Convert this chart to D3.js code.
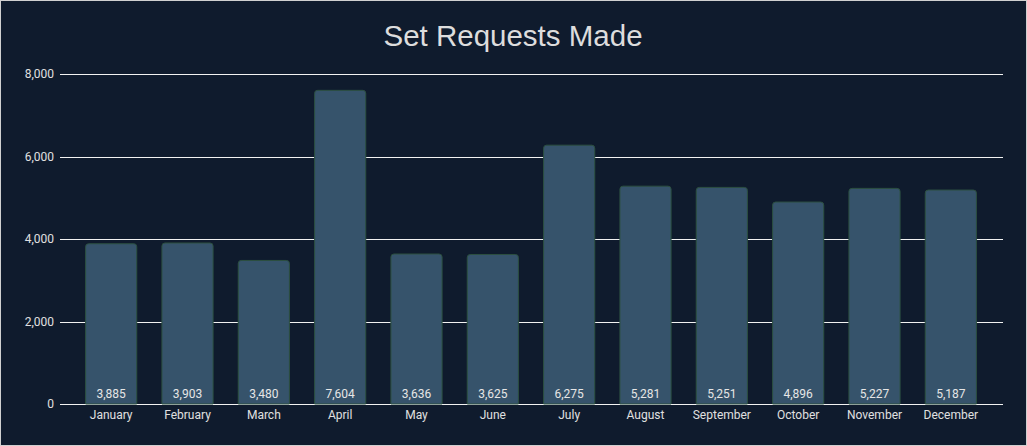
<!DOCTYPE html>
<html>
<head>
<meta charset="utf-8">
<script src="https://cdn.jsdelivr.net/npm/d3@7"></script>
<style>
  body { margin: 0; background: #0f1b2d; }
  svg { display: block; }
</style>
</head>
<body>
<svg id="chart" width="1027" height="446"></svg>
<script>
var months = ["January", "February", "March", "April", "May", "June",
              "July", "August", "September", "October", "November", "December"];
var requests = [3885, 3903, 3480, 7604, 3636, 3625, 6275, 5281, 5251, 4896, 5227, 5187];
var yTicks = [0, 2000, 4000, 6000, 8000];

var svg = d3.select("#chart");
var W = 1027, H = 446;

// frame
svg.append("rect").attr("x", 0.5).attr("y", 0.5)
  .attr("width", W - 1).attr("height", H - 1)
  .attr("fill", "#0f1b2d").attr("stroke", "#d0d0d0");

var x = d3.scaleBand().domain(months).range([73, 989]).paddingInner(0.33).paddingOuter(0.165);
var y = d3.scaleLinear().domain([0, 8000]).range([404, 74]);

// grid lines
svg.append("g").selectAll("line").data(yTicks).enter().append("line")
  .attr("x1", 60).attr("x2", 1003)
  .attr("y1", function(d) { return Math.round(y(d)) + 0.5; })
  .attr("y2", function(d) { return Math.round(y(d)) + 0.5; })
  .attr("stroke", "#f2f2f2").attr("stroke-width", 1);

// y axis labels
var yAxis = d3.axisLeft(y).tickValues(yTicks).tickFormat(d3.format(",")).tickSize(0).tickPadding(6);
var ya = svg.append("g").attr("transform", "translate(60,0)").call(yAxis);
ya.select(".domain").remove();
ya.selectAll("text").attr("fill", "#e0e0e0").style("font", "12px Roboto, sans-serif");

// x axis labels
var xAxis = d3.axisBottom(x).tickSize(0).tickPadding(6);
var xa = svg.append("g").attr("transform", "translate(0,404)").call(xAxis);
xa.select(".domain").remove();
xa.selectAll("text").attr("fill", "#e0e0e0").style("font", "12px Roboto, sans-serif");

// bars with rounded tops
function barPath(d, i) {
  var x0 = x(months[i]), w = x.bandwidth(), y0 = y(d), y1 = y(0), r = 3;
  return "M" + x0 + "," + y1 +
    "L" + x0 + "," + (y0 + r) +
    "Q" + x0 + "," + y0 + " " + (x0 + r) + "," + y0 +
    "L" + (x0 + w - r) + "," + y0 +
    "Q" + (x0 + w) + "," + y0 + " " + (x0 + w) + "," + (y0 + r) +
    "L" + (x0 + w) + "," + y1 + "Z";
}
svg.append("g").selectAll("path").data(requests).enter().append("path")
  .attr("d", barPath)
  .attr("fill", "#36536b")
  .attr("stroke", "#2c5040").attr("stroke-width", 1);

// value labels
svg.append("g").selectAll("text").data(requests).enter().append("text")
  .attr("x", function(d, i) { return x(months[i]) + x.bandwidth() / 2; })
  .attr("y", 398)
  .attr("text-anchor", "middle")
  .attr("fill", "#e6e6e6")
  .style("font", "12px Roboto, sans-serif")
  .text(function(d) { return d3.format(",")(d); });

// title
svg.append("text").attr("x", 513).attr("y", 46)
  .attr("text-anchor", "middle")
  .attr("fill", "#dddddd")
  .style("font", "29.5px 'Liberation Sans', Arial, sans-serif")
  .text("Set Requests Made");
</script>
</body>
</html>
